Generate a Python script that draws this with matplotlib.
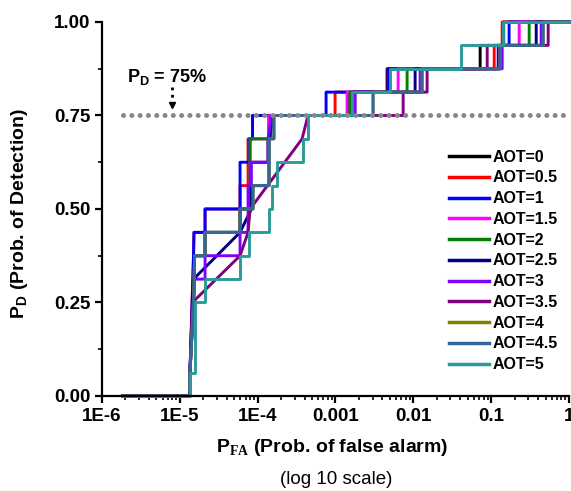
import matplotlib
matplotlib.use("Agg")
import matplotlib.pyplot as plt
from matplotlib.ticker import FixedLocator, LogLocator, NullFormatter

# ----------------------------------------------------------
# DATA: ROC points (PFA, PD) per AOT level
# ----------------------------------------------------------
aot_labels = ["AOT=0", "AOT=0.5", "AOT=1", "AOT=1.5", "AOT=2", "AOT=2.5",
              "AOT=3", "AOT=3.5", "AOT=4", "AOT=4.5", "AOT=5"]

pfa_aot0 = [1.86e-6, 1.35e-5, 1.35e-5, 1.50e-5, 1.55e-5, 2.11e-5, 2.11e-5, 5.94e-5, 5.94e-5, 7.98e-5, 7.98e-5,
            1.36e-4, 1.36e-4, 1.45e-4, 1.45e-4, 1.52e-3, 1.52e-3, 4.6e-3, 4.6e-3, 0.0722, 0.0722, 0.145, 0.145, 1]
pd_aot0 = [0, 0, 0.0625, 0.25, 0.375, 0.375, 0.4375, 0.4375, 0.5, 0.5, 0.625,
           0.625, 0.6875, 0.6875, 0.75, 0.75, 0.8125, 0.8125, 0.875, 0.875, 0.9375, 0.9375, 1, 1]

pfa_aot05 = [1.86e-6, 1.35e-5, 1.35e-5, 1.50e-5, 1.52e-5, 2.11e-5, 2.11e-5, 5.94e-5, 5.94e-5, 7.53e-5, 7.53e-5,
             8.6e-5, 8.6e-5, 9.88e-4, 9.88e-4, 4.74e-3, 4.74e-3, 0.1094, 0.1094, 0.1385, 0.1385, 1]
pd_aot05 = [0, 0, 0.0625, 0.375, 0.4375, 0.4375, 0.5, 0.5, 0.5625, 0.5625, 0.6875,
            0.6875, 0.75, 0.75, 0.8125, 0.8125, 0.875, 0.875, 0.9375, 0.9375, 1, 1]

pfa_aot1 = [1.86e-6, 1.35e-5, 1.35e-5, 1.50e-5, 1.52e-5, 2.11e-5, 2.11e-5, 5.94e-5, 5.94e-5, 7.76e-5, 7.76e-5,
            8.6e-5, 8.6e-5, 7.57e-4, 7.57e-4, 4.74e-3, 4.74e-3, 0.1231, 0.1231, 0.170, 0.170, 1]
pd_aot1 = [0, 0, 0.0625, 0.375, 0.4375, 0.4375, 0.5, 0.5, 0.625, 0.625, 0.6875,
           0.6875, 0.75, 0.75, 0.8125, 0.8125, 0.875, 0.875, 0.9375, 0.9375, 1, 1]

pfa_aot15 = [1.86e-6, 1.35e-5, 1.35e-5, 1.50e-5, 1.55e-5, 2.11e-5, 2.11e-5, 5.94e-5, 5.94e-5, 7.98e-5, 7.98e-5,
             1.38e-4, 1.38e-4, 1.41e-3, 1.41e-3, 6.38e-3, 6.38e-3, 0.128, 0.128, 0.229, 0.229, 1]
pd_aot15 = [0, 0, 0.0625, 0.25, 0.375, 0.375, 0.4375, 0.4375, 0.5, 0.5, 0.6875,
            0.6875, 0.75, 0.75, 0.8125, 0.8125, 0.875, 0.875, 0.9375, 0.9375, 1, 1]

pfa_aot2 = [1.86e-6, 1.35e-5, 1.35e-5, 1.50e-5, 1.55e-5, 2.11e-5, 2.11e-5, 5.94e-5, 5.94e-5, 7.98e-5, 7.98e-5,
            1.48e-4, 1.48e-4, 1.54e-3, 1.54e-3, 8.32e-3, 8.32e-3, 0.1306, 0.1306, 0.308, 0.308, 1]
pd_aot2 = [0, 0, 0.0625, 0.25, 0.375, 0.375, 0.4375, 0.4375, 0.5, 0.5, 0.6875,
           0.6875, 0.75, 0.75, 0.8125, 0.8125, 0.875, 0.875, 0.9375, 0.9375, 1, 1]

pfa_aot25 = [1.86e-6, 1.35e-5, 1.35e-5, 1.50e-5, 5.94e-5, 8.3e-5, 8.3e-5, 1.40e-4, 1.40e-4, 1.62e-4,
             1.70e-3, 1.70e-3, 0.01054, 0.01054, 0.1306, 0.1306, 0.379, 0.379, 1]
pd_aot25 = [0, 0, 0.0625, 0.3125, 0.4375, 0.5, 0.5625, 0.5625, 0.6875, 0.75,
            0.75, 0.8125, 0.8125, 0.875, 0.875, 0.9375, 0.9375, 1, 1]

pfa_aot3 = [1.86e-6, 1.35e-5, 1.35e-5, 1.55e-5, 2.11e-5, 2.11e-5, 5.94e-5, 5.94e-5, 7.53e-5, 7.53e-5, 8.3e-5,
            8.3e-5, 1.36e-4, 1.36e-4, 1.50e-4, 1.79e-3, 1.79e-3, 0.01223, 0.01223, 0.1385, 0.1385, 0.439, 0.439, 1]
pd_aot3 = [0, 0, 0.0625, 0.3125, 0.3125, 0.375, 0.375, 0.4375, 0.4375, 0.5625, 0.5625,
           0.625, 0.625, 0.6875, 0.75, 0.75, 0.8125, 0.8125, 0.875, 0.875, 0.9375, 0.9375, 1, 1]

pfa_aot35 = [1.86e-6, 1.35e-5, 1.35e-5, 1.45e-5, 5.94e-5, 7.53e-5, 8.0e-5, 3.72e-4, 4.44e-4, 7.40e-3, 7.40e-3,
             0.01503, 0.01503, 0.0889, 0.0889, 0.540, 0.540, 1]
pd_aot35 = [0, 0, 0.0625, 0.25, 0.375, 0.4375, 0.5, 0.6875, 0.75, 0.75, 0.8125,
            0.8125, 0.875, 0.875, 0.9375, 0.9375, 1, 1]

pfa_aot4 = [1.86e-6, 1.35e-5, 1.35e-5, 1.50e-5, 1.55e-5, 2.11e-5, 2.11e-5, 5.94e-5, 5.94e-5, 8.73e-5, 8.73e-5,
            1.40e-4, 1.40e-4, 1.62e-4, 1.62e-4, 3.04e-3, 3.04e-3, 0.01297, 0.01297, 0.1306, 0.1306, 0.466, 0.466, 1]
pd_aot4 = [0, 0, 0.0625, 0.25, 0.375, 0.375, 0.4375, 0.4375, 0.5, 0.5, 0.5625,
           0.5625, 0.6875, 0.6875, 0.75, 0.75, 0.8125, 0.8125, 0.875, 0.875, 0.9375, 0.9375, 1, 1]

pfa_aot45 = [1.86e-6, 1.35e-5, 1.35e-5, 1.50e-5, 1.55e-5, 2.11e-5, 2.11e-5, 5.94e-5, 5.94e-5, 8.73e-5, 8.73e-5,
             1.40e-4, 1.40e-4, 1.62e-4, 1.62e-4, 3.04e-3, 3.04e-3, 0.01297, 0.01297, 0.1306, 0.1306, 0.466, 0.466, 1]
pd_aot45 = [0, 0, 0.0625, 0.25, 0.375, 0.375, 0.4375, 0.4375, 0.5, 0.5, 0.5625,
            0.5625, 0.6875, 0.6875, 0.75, 0.75, 0.8125, 0.8125, 0.875, 0.875, 0.9375, 0.9375, 1, 1]

pfa_aot5 = [1.86e-6, 1.35e-5, 1.35e-5, 1.57e-5, 1.57e-5, 2.11e-5, 2.11e-5, 5.94e-5, 5.94e-5, 7.76e-5, 7.76e-5,
            1.40e-4, 1.40e-4, 1.53e-4, 1.53e-4, 1.77e-4, 1.77e-4, 3.83e-4, 3.83e-4, 4.44e-4, 4.44e-4,
            1.63e-3, 1.63e-3, 5.03e-3, 5.03e-3, 0.0411, 0.0411, 0.1426, 0.1426, 1]
pd_aot5 = [0, 0, 0.0625, 0.0625, 0.25, 0.25, 0.3125, 0.3125, 0.375, 0.375, 0.4375,
           0.4375, 0.5, 0.5, 0.5625, 0.5625, 0.625, 0.625, 0.6875, 0.6875, 0.75,
           0.75, 0.8125, 0.8125, 0.875, 0.875, 0.9375, 0.9375, 1, 1]

pd_target = 0.75
x_ticks = [1e-6, 1e-5, 1e-4, 1e-3, 1e-2, 1e-1, 1]
x_tick_labels = ["1E-6", "1E-5", "1E-4", "0.001", "0.01", "0.1", "1"]
y_ticks = [0.0, 0.25, 0.5, 0.75, 1.0]
y_tick_labels = ["0.00", "0.25", "0.50", "0.75", "1.00"]

colors = ["#000000", "#FF0000", "#0000FF", "#FF00FF", "#008000", "#000080",
          "#8000FF", "#800080", "#808000", "#336699", "#2A9A9A"]

series = [(pfa_aot0, pd_aot0), (pfa_aot05, pd_aot05), (pfa_aot1, pd_aot1), (pfa_aot15, pd_aot15),
          (pfa_aot2, pd_aot2), (pfa_aot25, pd_aot25), (pfa_aot3, pd_aot3), (pfa_aot35, pd_aot35),
          (pfa_aot4, pd_aot4), (pfa_aot45, pd_aot45), (pfa_aot5, pd_aot5)]

# ----------------------------------------------------------
# STYLE
# ----------------------------------------------------------
plt.rcParams["font.family"] = ["Liberation Sans", "DejaVu Sans"]
plt.rcParams["mathtext.fontset"] = "custom"
plt.rcParams["mathtext.rm"] = "Liberation Serif:bold"
plt.rcParams["mathtext.bf"] = "Liberation Sans:bold"

fig = plt.figure(figsize=(5.71, 4.91), dpi=100)
ax = fig.add_axes([0.1786, 0.1935, 0.8179, 0.7617])

for (pfa, pd), col, lab in zip(series, colors, aot_labels):
    ax.plot(pfa, pd, color=col, lw=2.1, label=lab, clip_on=False, zorder=2)

# --- P_D = 75% reference line ---
ax.plot([pfa_aot0[0], 1], [pd_target, pd_target], color="#888888", lw=3.6,
        linestyle=(0, (0.01, 1.65)), dash_capstyle="round", zorder=5, clip_on=False)

ax.text(6.85e-6, 0.853, r"P$_\mathbf{D}$ = 75%", fontsize=13, fontweight="bold",
        ha="center", va="center")
ax.plot([7.87e-6, 7.87e-6], [0.825, 0.785], color="black", lw=2, linestyle=":", zorder=6)
ax.plot([7.87e-6], [0.777], marker="v", color="black", markersize=5, zorder=6)

# --- axes ---
ax.set_xscale("log")
ax.set_xlim(1e-6, 1)
ax.set_ylim(0, 1)
ax.xaxis.set_major_locator(FixedLocator(x_ticks))
ax.set_xticklabels(x_tick_labels)
ax.xaxis.set_minor_locator(LogLocator(base=10, subs=range(2, 10), numticks=20))
ax.xaxis.set_minor_formatter(NullFormatter())
ax.set_yticks(y_ticks)
ax.set_yticklabels(y_tick_labels)
ax.set_yticks([0.125, 0.375, 0.625, 0.875], minor=True)

for side in ["top", "right"]:
    ax.spines[side].set_visible(False)
for side in ["left", "bottom"]:
    ax.spines[side].set_linewidth(1.6)

ax.tick_params(which="major", direction="out", length=5, width=1.6, labelsize=13.5)
ax.tick_params(which="minor", direction="out", length=3, width=1.2)
for lbl in ax.get_xticklabels() + ax.get_yticklabels():
    lbl.set_fontweight("bold")

fig.text(332 / 571, 1 - 448 / 491, r"P$_\mathrm{FA}$ (Prob. of false alarm)", fontsize=14,
         fontweight="bold", ha="center", va="center")
fig.text(336 / 571, 1 - 480 / 491, "(log 10 scale)", fontsize=13.5, ha="center", va="center")
fig.text(20 / 571, 1 - 214 / 491, r"P$_\mathbf{D}$ (Prob. of Detection)", fontsize=14,
         fontweight="bold", ha="center", va="center", rotation=90)

leg = ax.legend(loc="center left", bbox_to_anchor=(0.743, 0.361), frameon=False,
                fontsize=11.5, handlelength=2.5, handletextpad=0.25, labelspacing=0.36,
                borderaxespad=0, borderpad=0)
for t in leg.get_texts():
    t.set_fontweight("bold")
for h in leg.get_lines():
    h.set_linewidth(2.5)

fig.savefig("out.png", dpi=100)
